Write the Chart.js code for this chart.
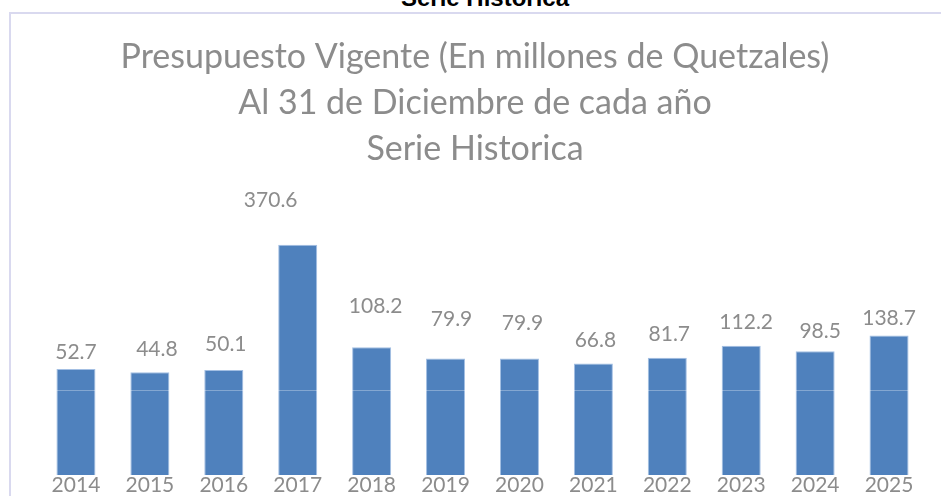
<!DOCTYPE html>
<html>
<head>
<meta charset="utf-8">
<script src="https://cdn.jsdelivr.net/npm/chart.js@4/dist/chart.umd.min.js"></script>
<style>
  html, body { margin: 0; padding: 0; background: #fff; overflow: hidden; }
  #wrap { position: relative; width: 941px; height: 496px; overflow: hidden; }
  #frame { position: absolute; left: 9px; top: 12px; width: 1000px; height: 1000px;
           border-left: 2px solid #d9d9ef; border-top: 2px solid #d9d9ef; }
  #sheetTitle { position: absolute; left: 485px; top: -14px; transform: translateX(-50%);
                font: bold 24px "Liberation Sans", Arial, sans-serif; line-height: 24px;
                color: #000; white-space: nowrap; }
  #myChart { position: absolute; left: 0; top: 0; }
</style>
</head>
<body>
<div id="wrap">
  <div id="sheetTitle">Serie Historica</div>
  <div id="frame"></div>
  <canvas id="myChart" width="941" height="496"></canvas>
</div>
<script>
const years = ["2014", "2015", "2016", "2017", "2018", "2019", "2020", "2021", "2022", "2023", "2024", "2025"];
const presupuesto = [52.7, 44.8, 50.1, 370.6, 108.2, 79.9, 79.9, 66.8, 81.7, 112.2, 98.5, 138.7];
const titleLines = ["Presupuesto Vigente (En millones de Quetzales)", "Al 31 de Diciembre de cada año", "Serie Historica"];

// axis range of the original (bars start well below zero)
const yMin = -218;
const yMax = 500;

// hand-placed label nudges from the original (px)
const labelLift = [17, 23, 26, 44, 41, 39, 35, 23, 23, 24, 20, 17];
const labelShift = [0, 7, 2, -27, 4, 6, 3, 2, 2, 5, 5, 0];

const gray = "#8c8c8c";

const barLabels = {
  id: "barLabels",
  afterDatasetsDraw(chart) {
    const { ctx } = chart;
    const meta = chart.getDatasetMeta(0);
    const zero = chart.scales.y.getPixelForValue(0);
    ctx.save();
    // faint line where the value axis crosses zero
    ctx.strokeStyle = "rgba(255,255,255,0.3)";
    ctx.lineWidth = 1;
    meta.data.forEach((bar) => {
      const half = bar.width / 2;
      ctx.beginPath();
      ctx.moveTo(bar.x - half, Math.round(zero) + 0.5);
      ctx.lineTo(bar.x + half, Math.round(zero) + 0.5);
      ctx.stroke();
    });
    ctx.fillStyle = gray;
    ctx.font = "21px Lato";
    ctx.textAlign = "center";
    ctx.textBaseline = "middle";
    meta.data.forEach((bar, i) => {
      ctx.fillText(presupuesto[i].toFixed(1), bar.x + labelShift[i], bar.y - labelLift[i]);
    });
    ctx.restore();
  }
};

const ctx = document.getElementById("myChart");

const myChart = new Chart(ctx, {
  type: "bar",
  plugins: [barLabels],
  data: {
    labels: years,
    datasets: [
      {
        label: "Presupuesto",
        data: presupuesto,
        base: yMin,
        backgroundColor: "#4f81bd",
        borderColor: "#a3bfe3",
        borderWidth: 1,
        barPercentage: 1,
        categoryPercentage: 0.528,
      },
    ],
  },
  options: {
    responsive: false,
    animation: false,
    layout: {
      padding: { left: 24, right: 15, top: 0, bottom: 0 },
    },
    plugins: {
      legend: { display: false },
      tooltip: { enabled: false },
      title: {
        display: true,
        text: titleLines,
        color: gray,
        font: { family: "Lato", size: 34, weight: "normal", lineHeight: 46 / 34 },
        padding: { top: 34, bottom: 22 },
      },
    },
    scales: {
      x: {
        grid: { display: false, drawTicks: false },
        border: { display: false },
        ticks: {
          color: gray,
          padding: 0,
          font: { family: "Lato", size: 21, lineHeight: 1 },
        },
      },
      y: {
        // hidden axis, only keeps a small gap on the left
        min: yMin,
        max: yMax,
        grid: { display: false, drawTicks: false },
        border: { display: false },
        ticks: { display: false },
        afterFit(scale) {
          scale.width = 15;
        },
      },
    },
  },
});
</script>
</body>
</html>
